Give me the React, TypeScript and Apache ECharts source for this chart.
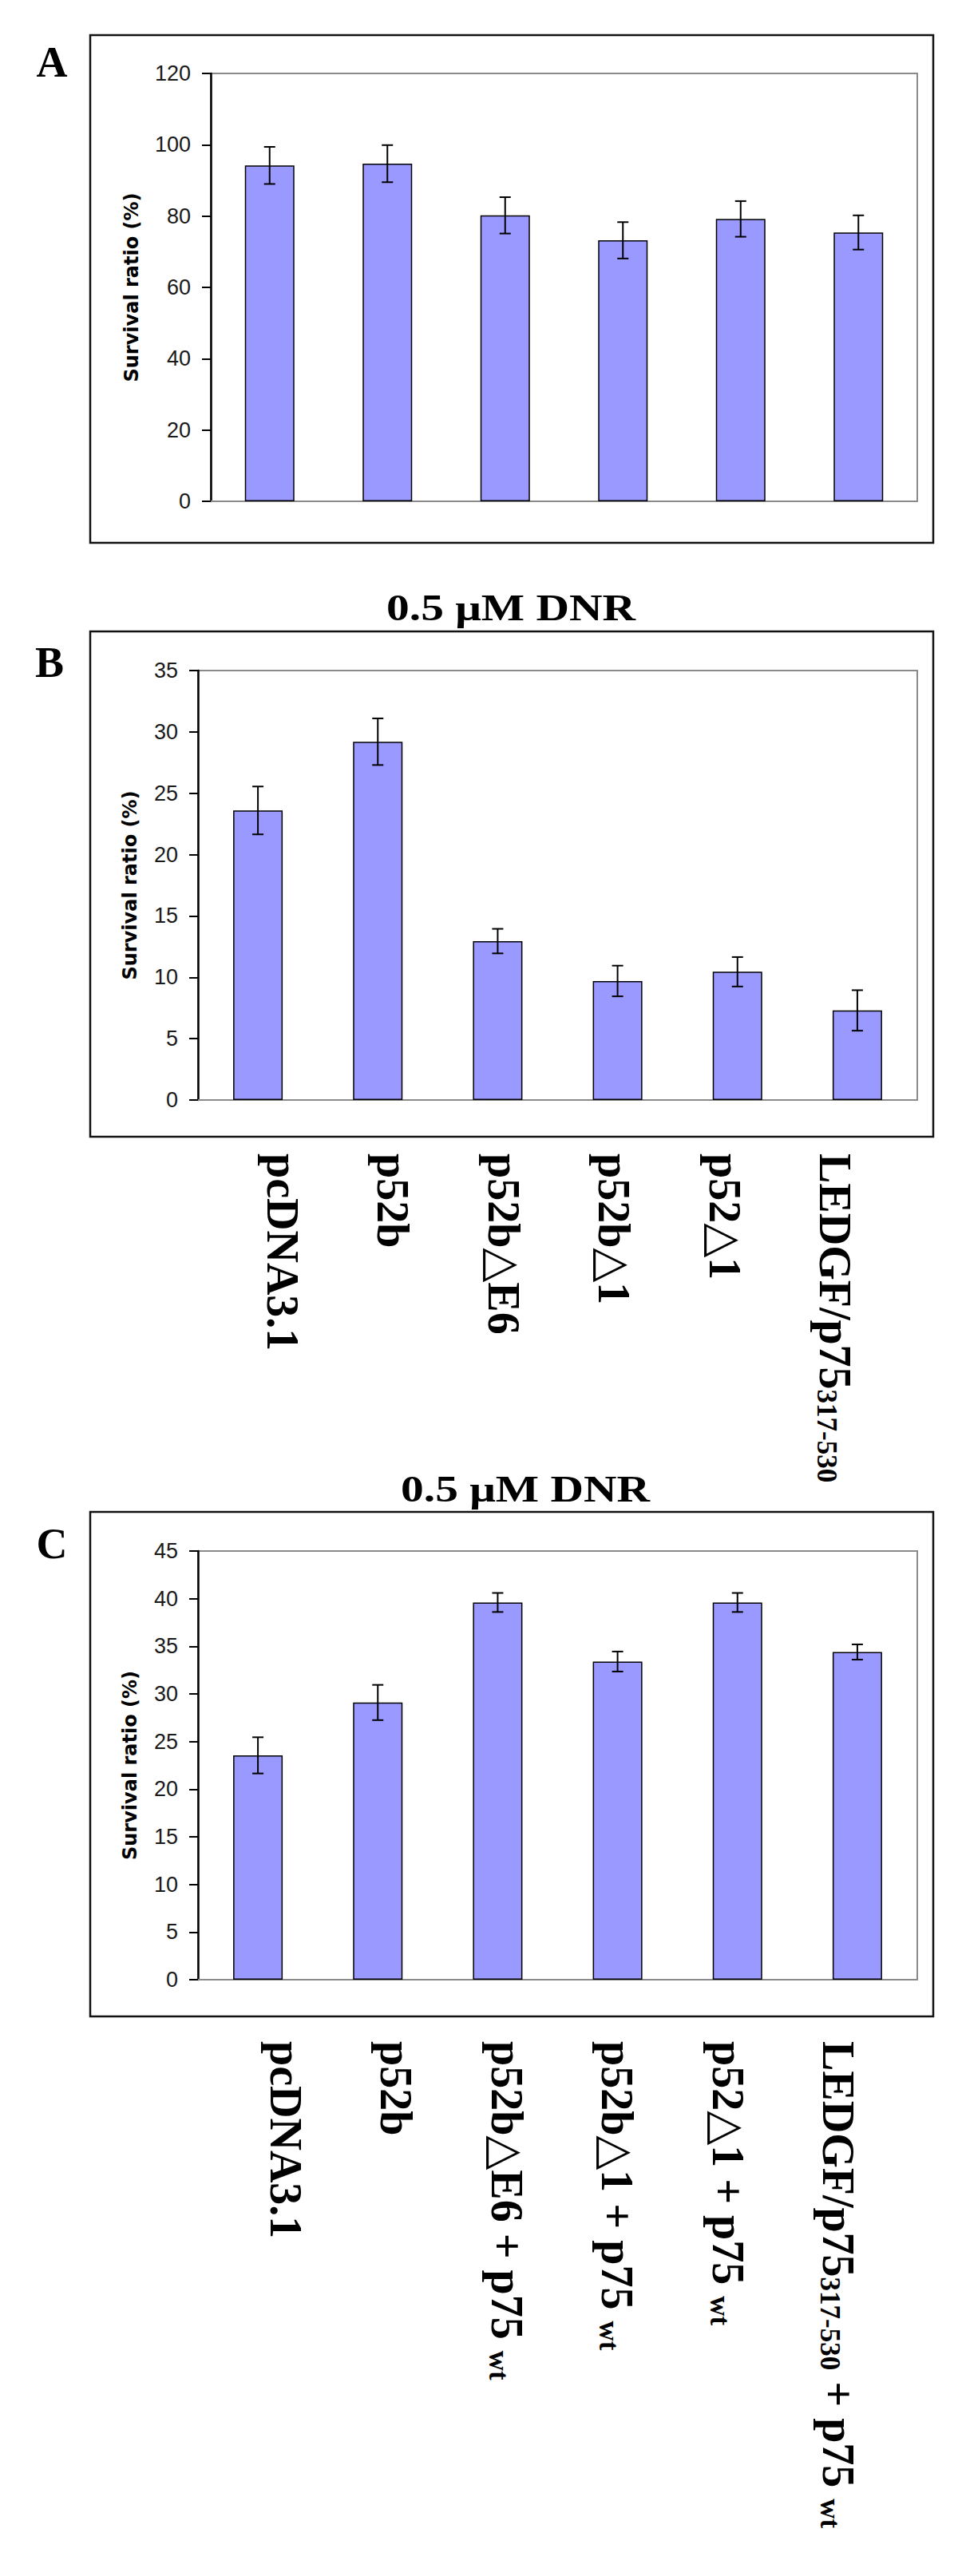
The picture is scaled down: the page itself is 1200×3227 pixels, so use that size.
import React, { useEffect, useRef } from "react";
import * as echarts from "echarts";

// ---------- data ----------
const categoriesB = ["pcDNA3.1", "p52b", "p52b△E6", "p52b△1", "p52△1", "LEDGF/p75_{317-530}"];
const categoriesC = [
  "pcDNA3.1",
  "p52b",
  "p52b△E6 + p75 _{wt}",
  "p52b△1 + p75 _{wt}",
  "p52△1 + p75 _{wt}",
  "LEDGF/p75_{317-530} + p75 _{wt}",
];

const valuesA = [94.2, 94.7, 80.2, 73.2, 79.2, 75.4];
const errorsA = [5.2, 5.2, 5.1, 5.1, 5.0, 4.8];

const valuesB = [23.6, 29.2, 12.95, 9.7, 10.45, 7.3];
const errorsB = [1.95, 1.9, 1.0, 1.25, 1.2, 1.65];

const valuesC = [23.55, 29.1, 39.6, 33.4, 39.6, 34.4];
const errorsC = [1.9, 1.85, 1.0, 1.05, 1.0, 0.8];

const yMaxA = 120;
const yStepA = 20;
const yMaxB = 35;
const yStepB = 5;
const yMaxC = 45;
const yStepC = 5;

const panelLetters = ["A", "B", "C"];
const titleText = "0.5 μM DNR";
const yTitle = "Survival ratio (%)";

// ---------- helpers ----------
const SERIF = "'Liberation Serif', 'Times New Roman', 'DejaVu Serif', serif";
const SANS = "'Liberation Sans', Arial, sans-serif";

function toRich(s: string): string {
  return s
    .split(/(_\{[^}]*\})/)
    .filter((p) => p.length > 0)
    .map((p) => (p.startsWith("_{") ? `{sub|${p.slice(2, -1)}}` : `{main|${p}}`))
    .join("");
}

function errData(vals: number[], errs: number[]) {
  return vals.map((v, i) => [i, v - errs[i], v + errs[i]]);
}

const renderErr = (params: any, api: any) => {
  const x = api.value(0);
  const lo = api.coord([x, api.value(1)]);
  const hi = api.coord([x, api.value(2)]);
  const cap = 7;
  const st = { stroke: "#000", lineWidth: 2 };
  return {
    type: "group",
    children: [
      { type: "line", shape: { x1: hi[0], y1: hi[1], x2: lo[0], y2: lo[1] }, style: st },
      { type: "line", shape: { x1: hi[0] - cap, y1: hi[1], x2: hi[0] + cap, y2: hi[1] }, style: st },
      { type: "line", shape: { x1: lo[0] - cap, y1: lo[1], x2: lo[0] + cap, y2: lo[1] }, style: st },
    ],
  };
};

function plotXAxis(gridIndex: number, cats: string[]) {
  return {
    gridIndex,
    type: "category",
    data: cats,
    axisLine: { show: true, lineStyle: { color: "#8a8a8a", width: 2 } },
    axisTick: { show: false },
    axisLabel: { show: false },
    splitLine: { show: false },
  };
}

function plotYAxis(gridIndex: number, max: number, step: number, nameGap: number) {
  return {
    gridIndex,
    type: "value",
    min: 0,
    max,
    interval: step,
    axisLine: { show: true, lineStyle: { color: "#000", width: 2.5 } },
    axisTick: { show: true, length: 11, lineStyle: { color: "#000", width: 2 } },
    axisLabel: { fontFamily: SANS, fontSize: 27, color: "#1a1a1a", margin: 25 },
    splitLine: { show: false },
    name: yTitle,
    nameLocation: "middle",
    nameGap,
    nameTextStyle: { fontFamily: "'DejaVu Sans', sans-serif", fontWeight: "bold", fontSize: 24, color: "#000" },
  };
}

function labelXAxis(gridIndex: number, cats: string[]) {
  return {
    gridIndex,
    type: "category",
    data: cats,
    axisLine: { show: false },
    axisTick: { show: false },
    splitLine: { show: false },
    axisLabel: {
      interval: 0,
      rotate: -90,
      margin: 8,
      formatter: (v: string) => toRich(v),
      rich: {
        main: { fontFamily: SERIF, fontWeight: "bold", fontSize: 56, color: "#000" },
        sub: { fontFamily: SERIF, fontWeight: "bold", fontSize: 35, color: "#000", verticalAlign: "bottom" },
      },
    },
  };
}

const hiddenY = (gridIndex: number) => ({ gridIndex, type: "value", min: 0, max: 1, show: false });

function barSeries(axisIndex: number, vals: number[]) {
  return {
    type: "bar",
    xAxisIndex: axisIndex,
    yAxisIndex: axisIndex,
    data: vals,
    barWidth: 62,
    itemStyle: { color: "#9999ff", borderColor: "#000", borderWidth: 1.5 },
    z: 2,
  };
}

function errSeries(axisIndex: number, vals: number[], errs: number[]) {
  return {
    type: "custom",
    xAxisIndex: axisIndex,
    yAxisIndex: axisIndex,
    data: errData(vals, errs),
    encode: { x: 0, y: [1, 2] },
    renderItem: renderErr,
    z: 5,
  };
}

export default function App() {
  const ref = useRef<HTMLDivElement>(null);

  useEffect(() => {
    if (!ref.current) return;
    const chart = echarts.init(ref.current, undefined, { renderer: "svg" });
    const boxStyle = { fill: "none", stroke: "#111", lineWidth: 2.5 };
    const letterStyle = (t: string) => ({
      text: t,
      fontFamily: SERIF,
      fontWeight: "bold",
      fontSize: 54,
      fill: "#000",
      align: "center",
      verticalAlign: "middle",
    });
    const titleStyle = {
      text: titleText,
      fontFamily: SERIF,
      fontWeight: "bold",
      fontSize: 46,
      fill: "#000",
      align: "center",
      verticalAlign: "middle",
    };

    chart.setOption({
      animation: false,
      backgroundColor: "#fff",
      grid: [
        { left: 264, top: 92, width: 885, height: 536, show: true, borderColor: "#8a8a8a", borderWidth: 2 },
        { left: 248, top: 840, width: 901, height: 538, show: true, borderColor: "#8a8a8a", borderWidth: 2 },
        { left: 248, top: 1943, width: 901, height: 537, show: true, borderColor: "#8a8a8a", borderWidth: 2 },
        { left: 284.8, top: 1400, width: 830.4, height: 37, show: false },
        { left: 288.8, top: 2510, width: 830.4, height: 39, show: false },
      ],
      xAxis: [
        plotXAxis(0, categoriesB),
        plotXAxis(1, categoriesB),
        plotXAxis(2, categoriesC),
        labelXAxis(3, categoriesB),
        labelXAxis(4, categoriesC),
      ],
      yAxis: [
        plotYAxis(0, yMaxA, yStepA, 87),
        plotYAxis(1, yMaxB, yStepB, 73),
        plotYAxis(2, yMaxC, yStepC, 73),
        hiddenY(3),
        hiddenY(4),
      ],
      series: [
        barSeries(0, valuesA),
        errSeries(0, valuesA, errorsA),
        barSeries(1, valuesB),
        errSeries(1, valuesB, errorsB),
        barSeries(2, valuesC),
        errSeries(2, valuesC, errorsC),
      ],
      graphic: [
        { type: "rect", shape: { x: 113, y: 44, width: 1056, height: 636 }, style: boxStyle, silent: true },
        { type: "rect", shape: { x: 113, y: 791, width: 1056, height: 633 }, style: boxStyle, silent: true },
        { type: "rect", shape: { x: 113, y: 1894, width: 1056, height: 632 }, style: boxStyle, silent: true },
        { type: "text", x: 65, y: 78, style: letterStyle(panelLetters[0]) },
        { type: "text", x: 62, y: 830, style: letterStyle(panelLetters[1]) },
        { type: "text", x: 65, y: 1934, style: letterStyle(panelLetters[2]) },
        { type: "text", x: 640, y: 762, scaleX: 1.25, style: titleStyle },
        { type: "text", x: 658, y: 1866, scaleX: 1.25, style: titleStyle },
      ],
    });
    return () => chart.dispose();
  }, []);

  return (
    <div
      ref={ref}
      style={{ position: "absolute", left: 0, top: 0, width: 1200, height: 3227, background: "#fff" }}
    />
  );
}
